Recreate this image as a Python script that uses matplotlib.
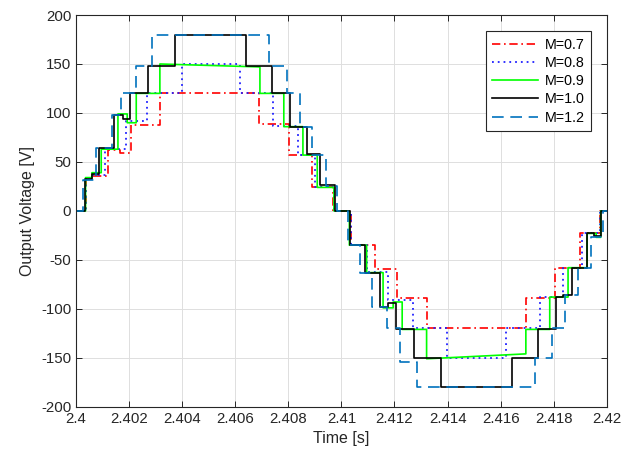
import matplotlib
matplotlib.use("Agg")
import matplotlib.pyplot as plt

plt.rcParams['font.family'] = ['Liberation Sans', 'DejaVu Sans']
plt.rcParams['axes.unicode_minus'] = False

T_START = 2.4
T_END = 2.42

# step edges (time [s]) and the level (V) held after each edge
t_07 = [2.4, 2.40039, 2.40055, 2.4012, 2.40165, 2.40206, 2.40316, 2.4069, 2.40803, 2.40888,
        2.40969, 2.41038, 2.41126, 2.41208, 2.41321, 2.41695, 2.41804, 2.41898, 2.41973]
v_07 = [0, 33, 36, 62, 59, 88, 120, 89, 57, 24,
        0, -35, -59, -89, -120, -89, -58, -23, 0]

t_08 = [2.4, 2.40036, 2.4006, 2.4011, 2.4019, 2.40268, 2.40398, 2.40618, 2.40743, 2.40837, 2.409,
        2.40972, 2.41036, 2.41095, 2.41176, 2.41271, 2.41396, 2.41622, 2.41747, 2.41835, 2.41905, 2.41975]
v_08 = [0, 33, 37, 63, 92, 120, 150, 120, 87, 57, 24,
        0, -35, -62, -91, -120, -150, -120, -88, -58, -23, 0]

t_09 = [2.4, 2.40036, 2.4006, 2.40095, 2.40158, 2.40193, 2.40227, 2.40316, 2.40693, 2.40783, 2.40855, 2.40909,
        2.40972, 2.4103, 2.41095, 2.41157, 2.41195, 2.41229, 2.41321, 2.41695, 2.41785, 2.41854, 2.41926, 2.4196, 2.41977]
v_09 = [0, 34, 39, 63, 99, 90, 120, 150, 120, 86, 57, 24,
        0, -35, -63, -99, -93, -121, -151, -121, -88, -58, -23, -27, 0]
# flat tops of M=0.9 that sag slowly: start edge -> level at end of the segment
drift_09 = {2.40316: 147, 2.41321: -146}

t_10 = [2.4, 2.40033, 2.4006, 2.40085, 2.40143, 2.40177, 2.40202, 2.40272, 2.40373, 2.40639, 2.40737, 2.40808,
        2.40869, 2.40921, 2.40976, 2.41032, 2.41088, 2.41145, 2.41175, 2.41205, 2.41273, 2.41374, 2.41641,
        2.41741, 2.4181, 2.41835, 2.41867, 2.41926, 2.4195, 2.4198]
v_10 = [0, 33, 38, 64, 98, 94, 120, 148, 180, 148, 120, 86,
        58, 26, 0, -35, -63, -98, -94, -121, -150, -180, -150,
        -121, -88, -86, -58, -23, -26, 0]

t_12 = [2.4, 2.40028, 2.40074, 2.40136, 2.40168, 2.40225, 2.40285, 2.40728, 2.40796, 2.40844, 2.40888, 2.40942,
        2.40982, 2.41026, 2.4107, 2.41114, 2.4117, 2.4122, 2.41283, 2.41729, 2.41795, 2.41842, 2.41892, 2.41939, 2.41984]
v_12 = [0, 32, 64, 98, 120, 148, 180, 148, 120, 86, 57, 25,
        0, -35, -63, -98, -120, -154, -180, -150, -120, -86, -58, -27, 0]

labels = ['M=0.7', 'M=0.8', 'M=0.9', 'M=1.0', 'M=1.2']


def stairs(t, v, drift=None):
    drift = drift or {}
    xs, ys = [], []
    for i in range(len(t)):
        t_next = t[i + 1] if i + 1 < len(t) else T_END
        xs += [t[i], t_next]
        ys += [v[i], drift.get(t[i], v[i])]
    return xs, ys


fig = plt.figure(figsize=(6.23, 4.55), dpi=100)
ax = fig.add_axes([0.122, 0.106, 0.852, 0.861])

x, y = stairs(t_07, v_07)
ax.plot(x, y, color='#ff0000', lw=1.2, dashes=(5, 2.2, 1, 2.2), label=labels[0])
x, y = stairs(t_08, v_08)
ax.plot(x, y, color='#2020ff', lw=1.3, dashes=(1, 2.2), label=labels[1])
x, y = stairs(t_09, v_09, drift_09)
ax.plot(x, y, color='#00ff00', lw=1.2, label=labels[2])
x, y = stairs(t_10, v_10)
ax.plot(x, y, color='black', lw=1.2, label=labels[3])
x, y = stairs(t_12, v_12)
ax.plot(x, y, color='#0072bd', lw=1.2, dashes=(7, 4), label=labels[4])

ax.set_xlim(T_START, T_END)
ax.set_ylim(-200, 200)
xt = [2.4 + 0.002 * i for i in range(11)]
ax.set_xticks(xt)
ax.set_xticklabels(['%g' % round(v, 3) for v in xt])
ax.set_yticks(range(-200, 201, 50))

ax.grid(True, color='#dedede', lw=0.7)
ax.set_axisbelow(True)
ax.tick_params(direction='in', top=True, right=True, length=4, width=0.7,
               labelsize=10.8, colors='#262626')
for s in ax.spines.values():
    s.set_color('#262626')
    s.set_linewidth(0.8)

ax.set_xlabel('Time [s]', fontsize=11.5, color='#262626')
ax.set_ylabel('Output Voltage [V]', fontsize=11.5, color='#262626')

leg = ax.legend(loc='upper right', bbox_to_anchor=(0.970, 0.959), fontsize=10.3,
                handlelength=3.2, labelspacing=0.3, borderaxespad=0, fancybox=False,
                framealpha=1, edgecolor='#262626', borderpad=0.45, handletextpad=0.45)
leg.get_frame().set_linewidth(0.8)

fig.savefig('out.png', dpi=100)
